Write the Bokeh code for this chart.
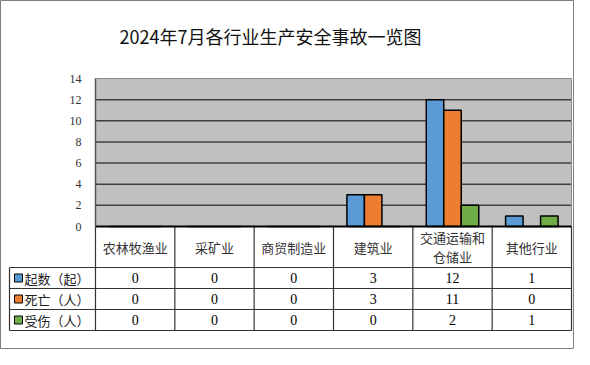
from bokeh.plotting import figure
from bokeh.models import Range1d, FixedTicker, ColumnDataSource, Label
from bokeh.transform import dodge
from bokeh.core.properties import value
from bokeh.embed import file_html
from bokeh.resources import INLINE

# ---------------- data ----------------
title_text = "2024年7月各行业生产安全事故一览图"
categories = ["农林牧渔业", "采矿业", "商贸制造业", "建筑业", "交通运输和仓储业", "其他行业"]
category_labels = ["农林牧渔业", "采矿业", "商贸制造业", "建筑业", "交通运输和\n仓储业", "其他行业"]
series_names = ["起数（起）", "死亡（人）", "受伤（人）"]
accidents = [0, 0, 0, 3, 12, 1]
deaths = [0, 0, 0, 3, 11, 0]
injuries = [0, 0, 0, 0, 2, 1]
y_ticks = [0, 2, 4, 6, 8, 10, 12, 14]
colors = ["#5B9BD5", "#ED7D31", "#70AD47"]

# ---------------- layout constants (pixels) ----------------
W, H = 574, 349
PLOT_LEFT = 95          # left edge of the plot area inside the figure
PLOT_RIGHT = 571        # right edge of the plot area
PLOT_TOP = 78           # top of the plot area (value 14)
PLOT_BOTTOM = 226       # value 0
n = len(categories)
ymax = y_ticks[-1]
colw = (PLOT_RIGHT - PLOT_LEFT) / n
PX_PER_UNIT = (PLOT_BOTTOM - PLOT_TOP) / ymax
bar_w = 17.5 / colw
CJK = "Noto Sans CJK SC"
SERIF = "Liberation Serif"

x_start = -PLOT_LEFT / colw
x_end = (W - PLOT_LEFT) / colw
y_end = ymax + PLOT_TOP / PX_PER_UNIT
y_start = ymax - (H - PLOT_TOP) / PX_PER_UNIT

series = [accidents, deaths, injuries]
pos = [i + 0.5 for i in range(n)]
src = ColumnDataSource(dict(pos=pos, cat=categories, s0=accidents, s1=deaths, s2=injuries))

p = figure(width=W, height=H, x_range=Range1d(x_start, x_end), y_range=Range1d(y_start, y_end),
           output_backend="svg", toolbar_location=None,
           min_border_left=0, min_border_right=0, min_border_top=0, min_border_bottom=0)
p.background_fill_color = "white"
p.border_fill_color = "white"
p.outline_line_color = "#7f7f7f"
p.outline_line_width = 1
p.grid.grid_line_color = None
p.xaxis.visible = False

# y axis placed at the left edge of the plot area
ya = p.yaxis[0]
ya.fixed_location = 0
ya.bounds = (0, ymax)
ya.ticker = FixedTicker(ticks=y_ticks)
ya.major_label_text_font = SERIF
ya.major_label_text_font_size = "12px"
ya.major_label_text_color = "#333333"
ya.axis_line_color = "#555555"
ya.axis_line_width = 1.5
ya.major_tick_line_color = None
ya.minor_tick_line_color = None
ya.major_label_standoff = 8

# plot area background and gridlines
p.quad(left=[0], right=[n], bottom=[0], top=[ymax], fill_color="#c0c0c0", line_color=None)
inner = y_ticks[1:-1]
p.segment(x0=[0] * len(inner), y0=inner, x1=[n] * len(inner), y1=inner,
          line_color="#404040", line_width=1.5)
p.segment(x0=[0, n], y0=[ymax, 0], x1=[n, n], y1=[ymax, ymax], line_color="#8c8c8c", line_width=1)

# bars
for k, off in enumerate([-bar_w, 0, bar_w]):
    p.vbar(x=dodge("pos", off), top="s%d" % k, width=bar_w, bottom=0,
           fill_color=colors[k], line_color="black", line_width=1.5, source=src)

# ---------------- data table ----------------
cat_h = 41 / PX_PER_UNIT
row_h = 21 / PX_PER_UNIT
table_left = (9 - PLOT_LEFT) / colw
row_lines = [-cat_h - row_h * r for r in range(len(series) + 1)]
table_bottom = row_lines[-1]

p.segment(x0=[table_left] * len(row_lines), y0=row_lines,
          x1=[n] * len(row_lines), y1=row_lines, line_color="#333333", line_width=1.2)
vx = list(range(n + 1))
p.segment(x0=vx, y0=[0] * len(vx), x1=vx, y1=[table_bottom] * len(vx),
          line_color="#333333", line_width=1.2)
p.segment(x0=[table_left], y0=[-cat_h], x1=[table_left], y1=[table_bottom],
          line_color="#333333", line_width=1.2)
# axis base line
p.segment(x0=[0], y0=[0], x1=[n], y1=[0], line_color="black", line_width=2)

# category labels
p.text(x=pos, y=[-cat_h / 2] * n, text=category_labels,
       text_font=value(CJK), text_font_size="13px", text_align="center",
       text_baseline="middle", text_color="#333333", text_line_height=1.05)

# values
xs, ys, ts = [], [], []
for r, vals in enumerate(series):
    for i, v in enumerate(vals):
        xs.append(pos[i])
        ys.append(-cat_h - row_h * r - row_h / 2)
        ts.append(str(v))
p.text(x=xs, y=ys, text=ts, text_font=value(SERIF), text_font_size="14px",
       text_align="center", text_baseline="middle", text_color="black")

# row labels with colour keys
row_mid = [-cat_h - row_h * r - row_h / 2 for r in range(len(series))]
p.scatter(x=[(18 - PLOT_LEFT) / colw] * len(series), y=row_mid, marker="square", size=8,
          fill_color=colors, line_color="black", line_width=1)
p.text(x=[(24 - PLOT_LEFT) / colw] * len(series), y=row_mid, text=series_names,
       text_font=value(CJK), text_font_size="13px", text_align="left",
       text_baseline="middle", text_color="#222222")

# title
p.add_layout(Label(x=270, y=H - 35, x_units="screen", y_units="screen", text=title_text,
                   text_font=CJK, text_font_size="18px", text_color="#111111",
                   text_align="center", text_baseline="middle"))

open("out.html", "w").write(file_html(p, INLINE))
